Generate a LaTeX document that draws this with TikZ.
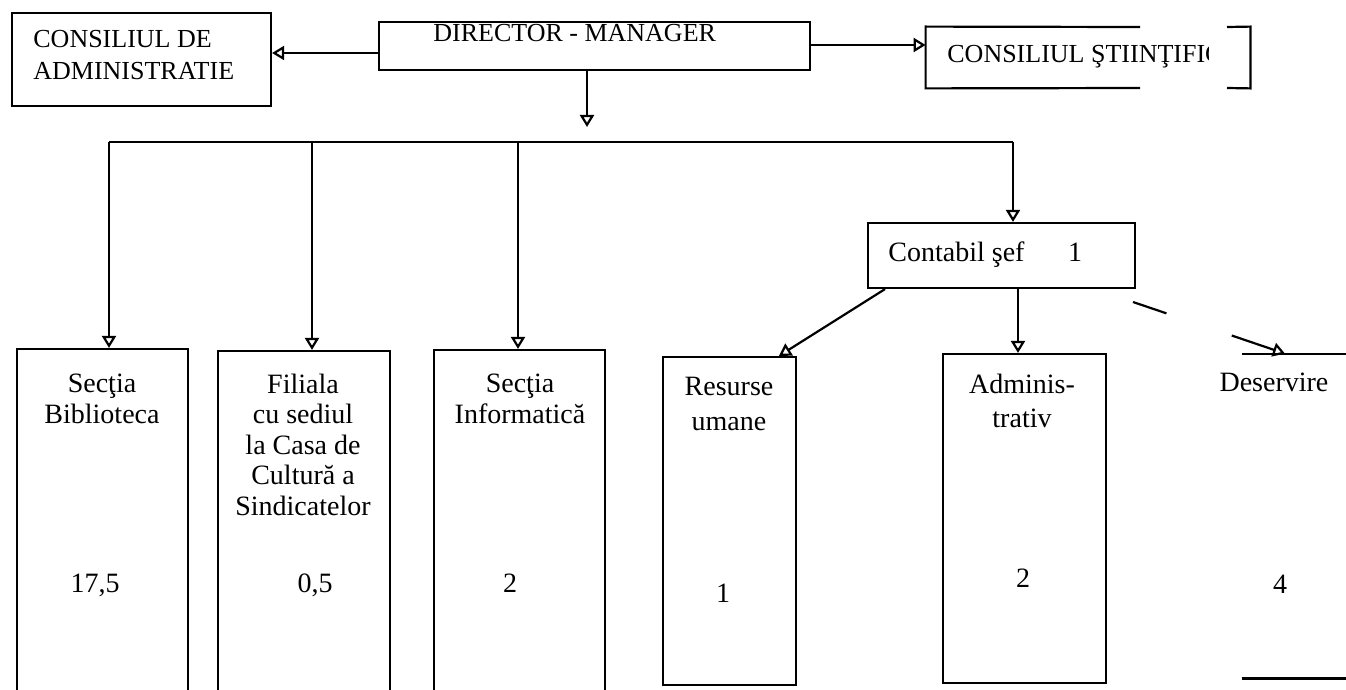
\documentclass[tikz,border=0pt]{standalone}
\usepackage{fontspec}
\setmainfont{Liberation Serif}
\usetikzlibrary{arrows.meta,fit,calc}

\begin{document}
\begin{tikzpicture}[x=0.5pt,y=-0.5pt,
    orgBox/.style={draw, line width=1.1pt, inner sep=0pt},
    orgLine/.style={line width=1.1pt},
    orgArrow/.style={line width=1.1pt, -{Triangle[open,length=6pt,width=7pt]}},
    topText/.style={font=\fontsize{13}{16}\selectfont, inner sep=0pt, anchor=base west, align=left},
    deptText/.style={font=\fontsize{14}{15.25}\selectfont, inner sep=0pt, anchor=base, align=center},
]
    \useasboundingbox (0,0) rectangle (1346,690);
    \clip (0,0) rectangle (1346,690);
%
    % conducere
    \node[orgBox, fit={(12,13) (271,106)}] (consAdm) {};
    \node[orgBox, fit={(379,22) (810,70)}] (director) {};
    \node[inner sep=0pt, fit={(926,27) (1250,88)}] (consSt) {};
    \draw[orgLine] (1140,27) -- (consSt.north west) -- (consSt.south west) -- (1140,88);
    \draw[orgLine] (1227,27) -- (consSt.north east) -- (consSt.south east) -- (1227,88);
    % the base anchor of a multi-line node sits on its last line
    \node[topText] (consAdmTxt) at (33,80) {CONSILIUL DE\\ADMINISTRATIE};
    \node[topText] (directorTxt) at (433,42) {DIRECTOR - MANAGER};
    \begin{scope}
        \clip (926,20) rectangle (1208,95);
        \node[topText] (consStTxt) at (947,63) {CONSILIUL ŞTIINŢIFIC};
    \end{scope}
    \draw[orgArrow] (director.west |- 0,53) -- (consAdm.east |- 0,53);
    \draw[orgArrow] (director.east |- 0,45) -- (consSt.west |- 0,45);
%
    % sectii
    \node[orgBox, fit={(17,349) (188,700)}] (bib) {};
    \node[orgBox, fit={(218,351) (390,700)}] (fil) {};
    \node[orgBox, fit={(434,350) (605,700)}] (inf) {};
    \node[orgBox, fit={(868,223) (1135,288)}] (contabil) {};
    \node[orgBox, fit={(663,357) (796,685)}] (res) {};
    \node[orgBox, fit={(943,354) (1106,683)}] (admv) {};
    \node[inner sep=0pt, fit={(1242,354) (1400,678)}] (des) {};
    \draw[orgLine] (des.north west) -- (des.north east) (des.south west) -- (des.south east);
%
    \coordinate (hub) at (587,127);
    \coordinate (busL) at (109,142);
    \coordinate (busR) at (1013,142);
    \draw[orgArrow] (director.south -| hub) -- (hub);
    \draw[orgLine] (busL) -- (busR);
    \foreach \dept/\xx in {bib/109, fil/312, inf/518}
        \draw[orgArrow] (\xx,142) -- (\dept.north -| \xx,0);
    \draw[orgArrow] (busR) -- (contabil.north -| busR);
%
    \draw[orgArrow] (contabil.south -| 885,0) -- (res.north -| 779,0);
    \draw[orgArrow] (contabil.south -| 1018,0) -- (admv.north -| 1018,0);
    \coordinate (desFrom) at (1133,302);
    \coordinate (desTo) at (des.north -| 1285,0);
    \draw[orgLine] (desFrom) -- ($(desFrom)!0.22!(desTo)$);
    \draw[orgArrow] ($(desFrom)!0.65!(desTo)$) -- (desTo);
%
    \node[font=\fontsize{14}{17}\selectfont, inner sep=0pt, anchor=base west] (contabilTxt) at (888,262) {Contabil şef};
    \node[font=\fontsize{14}{17}\selectfont, inner sep=0pt, anchor=base] (contabilNum) at (1075,262) {1};
    \node[deptText] (bibTxt) at (102,423) {Secţia\\Biblioteca};
    \node[deptText] (filTxt) at (303,515) {Filiala\\cu sediul\\la Casa de\\Cultură a\\Sindicatelor};
    \node[deptText] (infTxt) at (520,423) {Secţia\\Informatică};
    \node[deptText, font=\fontsize{14}{17.5}\selectfont] (resTxt) at (729,430) {Resurse\\umane};
    \node[deptText, font=\fontsize{14}{17}\selectfont] (admvTxt) at (1022,427) {Adminis-\\trativ};
    \node[deptText] (desTxt) at (1274,392) {Deservire};
    \node[deptText] (bibNum) at (95,592) {17,5};
    \node[deptText] (filNum) at (315,592) {0,5};
    \node[deptText] (infNum) at (510,592) {2};
    \node[deptText] (resNum) at (723,602) {1};
    \node[deptText] (admvNum) at (1023,587) {2};
    \node[deptText] (desNum) at (1280,593) {4};
\end{tikzpicture}
\end{document}
